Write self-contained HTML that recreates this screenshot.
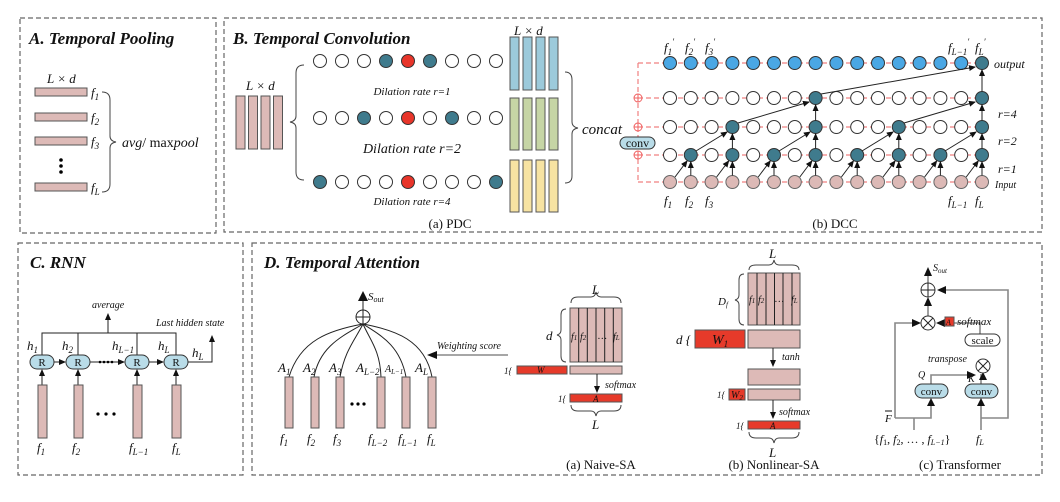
<!DOCTYPE html>
<html><head><meta charset="utf-8"><style>
html,body{margin:0;padding:0;background:#fff;}
svg{display:block;}
text{font-family:"Liberation Serif",serif;fill:#111;}
.t{font-weight:bold;font-style:italic;font-size:17px;}
.i{font-style:italic;}
.bx{fill:none;stroke:#666;stroke-width:1.2;stroke-dasharray:5,3;}
.pk{fill:#ddbab7;stroke:#555;stroke-width:1;}
.rd{fill:#e63a2a;stroke:#555;stroke-width:1;}
.ln{stroke:#222;stroke-width:1;fill:none;}
.gl{stroke:#888;stroke-width:1.6;fill:none;}
.br{stroke:#444;stroke-width:1;fill:none;}
.rdl{stroke:#f08080;stroke-width:1.2;stroke-dasharray:5,3;fill:none;}
</style></head><body>
<svg width="1060" height="502" viewBox="0 0 1060 502" xmlns="http://www.w3.org/2000/svg">
<defs>
<marker id="a" markerWidth="7" markerHeight="7" refX="6" refY="3.5" orient="auto" markerUnits="userSpaceOnUse"><path d="M0,0.5 L7,3.5 L0,6.5 z" fill="#111"/></marker>
<marker id="b" markerWidth="10" markerHeight="10" refX="9" refY="5" orient="auto" markerUnits="userSpaceOnUse"><path d="M0,0 L10,5 L0,10 z" fill="#111"/></marker>
<circle id="w" r="6.5" fill="#fff" stroke="#333" stroke-width="1"/>
<circle id="tl" r="6.5" fill="#3f7b8d" stroke="#333" stroke-width="1"/>
<circle id="r" r="6.5" fill="#e8352a" stroke="#333" stroke-width="1"/>
<circle id="bl" r="6.5" fill="#4aa7e4" stroke="#333" stroke-width="1"/>
<circle id="p" r="6.5" fill="#dcb9b6" stroke="#666" stroke-width="1"/>
</defs>

<!-- boxes -->
<rect class="bx" x="20" y="18" width="196" height="215"/>
<rect class="bx" x="224" y="18" width="818" height="214"/>
<rect class="bx" x="18" y="243" width="225" height="232"/>
<rect class="bx" x="252" y="243" width="790" height="232"/>

<!-- A -->
<text class="t" x="29" y="44">A. Temporal Pooling</text>
<text class="i" x="47" y="83" font-size="13">L × d</text>
<rect class="pk" x="35" y="88" width="52" height="8"/>
<rect class="pk" x="35" y="113" width="52" height="8"/>
<rect class="pk" x="35" y="137" width="52" height="8"/>
<rect class="pk" x="35" y="183" width="52" height="8"/>
<circle cx="61" cy="160" r="1.8" fill="#000"/><circle cx="61" cy="166" r="1.8" fill="#000"/><circle cx="61" cy="172" r="1.8" fill="#000"/>
<text class="i" x="91" y="97" font-size="13">f<tspan font-size="9" dy="3">1</tspan></text>
<text class="i" x="91" y="122" font-size="13">f<tspan font-size="9" dy="3">2</tspan></text>
<text class="i" x="91" y="146" font-size="13">f<tspan font-size="9" dy="3">3</tspan></text>
<text class="i" x="91" y="192" font-size="13">f<tspan font-size="9" dy="3">L</tspan></text>
<path class="br" d="M102,92 Q110,92 110,100 L110,136 Q110,141 116,142 Q110,143 110,148 L110,184 Q110,192 102,192"/>
<text x="122" y="147" font-size="14"><tspan class="i">avg</tspan>/ max<tspan class="i">pool</tspan></text>

<!-- B PDC -->
<text class="t" x="233" y="44">B. Temporal Convolution</text>
<text class="i" x="246" y="90" font-size="13">L × d</text>
<rect class="pk" x="236" y="96" width="9" height="53"/>
<rect class="pk" x="248.5" y="96" width="9" height="53"/>
<rect class="pk" x="261" y="96" width="9" height="53"/>
<rect class="pk" x="273.5" y="96" width="9" height="53"/>
<path class="br" d="M304,65 Q296,65 296,73 L296,116 Q296,121 290,122 Q296,123 296,128 L296,172 Q296,180 304,180"/>
<g>
<use href="#w" x="320" y="61"/><use href="#w" x="342" y="61"/><use href="#w" x="364" y="61"/><use href="#tl" x="386" y="61"/><use href="#r" x="408" y="61"/><use href="#tl" x="430" y="61"/><use href="#w" x="452" y="61"/><use href="#w" x="474" y="61"/><use href="#w" x="496" y="61"/>
<use href="#w" x="320" y="118"/><use href="#w" x="342" y="118"/><use href="#tl" x="364" y="118"/><use href="#w" x="386" y="118"/><use href="#r" x="408" y="118"/><use href="#w" x="430" y="118"/><use href="#tl" x="452" y="118"/><use href="#w" x="474" y="118"/><use href="#w" x="496" y="118"/>
<use href="#tl" x="320" y="182"/><use href="#w" x="342" y="182"/><use href="#w" x="364" y="182"/><use href="#w" x="386" y="182"/><use href="#r" x="408" y="182"/><use href="#w" x="430" y="182"/><use href="#w" x="452" y="182"/><use href="#w" x="474" y="182"/><use href="#tl" x="496" y="182"/>
</g>
<text class="i" x="412" y="95" font-size="11" text-anchor="middle">Dilation rate r=1</text>
<text class="i" x="412" y="153" font-size="14" text-anchor="middle">Dilation rate r=2</text>
<text class="i" x="412" y="205" font-size="11" text-anchor="middle">Dilation rate r=4</text>
<text class="i" x="514" y="35" font-size="13">L × d</text>
<g stroke="#555" stroke-width="1">
<rect x="510" y="37" width="9" height="53" fill="#9ccadb"/><rect x="523" y="37" width="9" height="53" fill="#9ccadb"/><rect x="536" y="37" width="9" height="53" fill="#9ccadb"/><rect x="549" y="37" width="9" height="53" fill="#9ccadb"/>
<rect x="510" y="98" width="9" height="52" fill="#c6d5a5"/><rect x="523" y="98" width="9" height="52" fill="#c6d5a5"/><rect x="536" y="98" width="9" height="52" fill="#c6d5a5"/><rect x="549" y="98" width="9" height="52" fill="#c6d5a5"/>
<rect x="510" y="160" width="9" height="52" fill="#f7e3a2"/><rect x="523" y="160" width="9" height="52" fill="#f7e3a2"/><rect x="536" y="160" width="9" height="52" fill="#f7e3a2"/><rect x="549" y="160" width="9" height="52" fill="#f7e3a2"/>
</g>
<path class="br" d="M565,72 Q572,72 572,80 L572,122 Q572,127 578,128 Q572,129 572,134 L572,176 Q572,183 565,183"/>
<text class="i" x="582" y="134" font-size="15">concat</text>
<text x="450" y="228" font-size="13" text-anchor="middle">(a) PDC</text>

<!-- DCC -->
<path class="rdl" d="M638,63 H982 M638,98 H982 M638,127 H982 M638,155 H982 M638,182 H982 M638,63 V182"/>
<g stroke="#f06060" stroke-width="1" fill="#fff">
<circle cx="638" cy="98" r="4"/><circle cx="638" cy="127" r="4"/><circle cx="638" cy="155" r="4"/>
<path d="M634,98 H642 M638,94 V102 M634,127 H642 M638,123 V131 M634,155 H642 M638,151 V159" fill="none"/>
</g>
<rect x="620" y="137" width="35" height="12" rx="6" fill="#b9dce8" stroke="#333" stroke-width="1"/>
<text x="637.5" y="147" font-size="12" text-anchor="middle">conv</text>
<g>
<use href="#bl" x="670" y="63"/><use href="#bl" x="690.8" y="63"/><use href="#bl" x="711.6" y="63"/><use href="#bl" x="732.4" y="63"/><use href="#bl" x="753.2" y="63"/><use href="#bl" x="774" y="63"/><use href="#bl" x="794.8" y="63"/><use href="#bl" x="815.6" y="63"/><use href="#bl" x="836.4" y="63"/><use href="#bl" x="857.2" y="63"/><use href="#bl" x="878" y="63"/><use href="#bl" x="898.8" y="63"/><use href="#bl" x="919.6" y="63"/><use href="#bl" x="940.4" y="63"/><use href="#bl" x="961.2" y="63"/><use href="#tl" x="982" y="63"/>
<use href="#w" x="670" y="98"/><use href="#w" x="690.8" y="98"/><use href="#w" x="711.6" y="98"/><use href="#w" x="732.4" y="98"/><use href="#w" x="753.2" y="98"/><use href="#w" x="774" y="98"/><use href="#w" x="794.8" y="98"/><use href="#tl" x="815.6" y="98"/><use href="#w" x="836.4" y="98"/><use href="#w" x="857.2" y="98"/><use href="#w" x="878" y="98"/><use href="#w" x="898.8" y="98"/><use href="#w" x="919.6" y="98"/><use href="#w" x="940.4" y="98"/><use href="#w" x="961.2" y="98"/><use href="#tl" x="982" y="98"/>
<use href="#w" x="670" y="127"/><use href="#w" x="690.8" y="127"/><use href="#w" x="711.6" y="127"/><use href="#tl" x="732.4" y="127"/><use href="#w" x="753.2" y="127"/><use href="#w" x="774" y="127"/><use href="#w" x="794.8" y="127"/><use href="#tl" x="815.6" y="127"/><use href="#w" x="836.4" y="127"/><use href="#w" x="857.2" y="127"/><use href="#w" x="878" y="127"/><use href="#tl" x="898.8" y="127"/><use href="#w" x="919.6" y="127"/><use href="#w" x="940.4" y="127"/><use href="#w" x="961.2" y="127"/><use href="#tl" x="982" y="127"/>
<use href="#w" x="670" y="155"/><use href="#tl" x="690.8" y="155"/><use href="#w" x="711.6" y="155"/><use href="#tl" x="732.4" y="155"/><use href="#w" x="753.2" y="155"/><use href="#tl" x="774" y="155"/><use href="#w" x="794.8" y="155"/><use href="#tl" x="815.6" y="155"/><use href="#w" x="836.4" y="155"/><use href="#tl" x="857.2" y="155"/><use href="#w" x="878" y="155"/><use href="#tl" x="898.8" y="155"/><use href="#w" x="919.6" y="155"/><use href="#tl" x="940.4" y="155"/><use href="#w" x="961.2" y="155"/><use href="#tl" x="982" y="155"/>
<use href="#p" x="670" y="182"/><use href="#p" x="690.8" y="182"/><use href="#p" x="711.6" y="182"/><use href="#p" x="732.4" y="182"/><use href="#p" x="753.2" y="182"/><use href="#p" x="774" y="182"/><use href="#p" x="794.8" y="182"/><use href="#p" x="815.6" y="182"/><use href="#p" x="836.4" y="182"/><use href="#p" x="857.2" y="182"/><use href="#p" x="878" y="182"/><use href="#p" x="898.8" y="182"/><use href="#p" x="919.6" y="182"/><use href="#p" x="940.4" y="182"/><use href="#p" x="961.2" y="182"/><use href="#p" x="982" y="182"/>
</g>
<g class="ln" marker-end="url(#a)" stroke-width="0.9">
<line x1="675" y1="177" x2="687" y2="161"/><line x1="690.8" y1="175.5" x2="690.8" y2="162"/>
<line x1="716.6" y1="177" x2="728.6" y2="161"/><line x1="732.4" y1="175.5" x2="732.4" y2="162"/>
<line x1="758.2" y1="177" x2="770.2" y2="161"/><line x1="774" y1="175.5" x2="774" y2="162"/>
<line x1="799.8" y1="177" x2="811.8" y2="161"/><line x1="815.6" y1="175.5" x2="815.6" y2="162"/>
<line x1="841.4" y1="177" x2="853.4" y2="161"/><line x1="857.2" y1="175.5" x2="857.2" y2="162"/>
<line x1="883" y1="177" x2="895" y2="161"/><line x1="898.8" y1="175.5" x2="898.8" y2="162"/>
<line x1="924.6" y1="177" x2="936.6" y2="161"/><line x1="940.4" y1="175.5" x2="940.4" y2="162"/>
<line x1="966.2" y1="177" x2="978.2" y2="161"/><line x1="982" y1="175.5" x2="982" y2="162"/>
<line x1="696" y1="151" x2="727" y2="132"/><line x1="732.4" y1="148.5" x2="732.4" y2="134"/>
<line x1="779" y1="151" x2="810" y2="132"/><line x1="815.6" y1="148.5" x2="815.6" y2="134"/>
<line x1="862" y1="151" x2="893" y2="132"/><line x1="898.8" y1="148.5" x2="898.8" y2="134"/>
<line x1="945" y1="151" x2="976" y2="132"/><line x1="982" y1="148.5" x2="982" y2="134"/>
<line x1="738" y1="123" x2="809" y2="102"/><line x1="815.6" y1="120.5" x2="815.6" y2="105"/>
<line x1="904" y1="123" x2="975" y2="102"/><line x1="982" y1="120.5" x2="982" y2="105"/>
<line x1="821" y1="94" x2="975" y2="67"/><line x1="982" y1="91.5" x2="982" y2="70"/>
</g>
<g class="i" font-size="13">
<text x="664" y="52">f<tspan font-size="9" dy="3">1</tspan><tspan font-size="9" dy="-10">′</tspan></text>
<text x="685" y="52">f<tspan font-size="9" dy="3">2</tspan><tspan font-size="9" dy="-10">′</tspan></text>
<text x="705" y="52">f<tspan font-size="9" dy="3">3</tspan><tspan font-size="9" dy="-10">′</tspan></text>
<text x="948" y="52">f<tspan font-size="9" dy="3">L−1</tspan><tspan font-size="9" dy="-10">′</tspan></text>
<text x="975" y="52">f<tspan font-size="9" dy="3">L</tspan><tspan font-size="9" dy="-10">′</tspan></text>
<text x="664" y="205">f<tspan font-size="9" dy="3">1</tspan></text>
<text x="685" y="205">f<tspan font-size="9" dy="3">2</tspan></text>
<text x="705" y="205">f<tspan font-size="9" dy="3">3</tspan></text>
<text x="948" y="205">f<tspan font-size="9" dy="3">L−1</tspan></text>
<text x="975" y="205">f<tspan font-size="9" dy="3">L</tspan></text>
<text x="994" y="68" font-size="12">output</text>
<text x="998" y="118" font-size="12">r=4</text>
<text x="998" y="145" font-size="12">r=2</text>
<text x="998" y="173" font-size="12">r=1</text>
<text x="995" y="188" font-size="10">Input</text>
</g>
<text x="835" y="228" font-size="13" text-anchor="middle">(b) DCC</text>

<!-- C RNN -->
<text class="t" x="30" y="268">C. RNN</text>
<path class="ln" d="M42,362 V333 H176 V362 M78,333 V362 M137,333 V362"/>
<line class="ln" x1="108" y1="333" x2="108" y2="314" marker-end="url(#a)"/>
<text class="i" x="92" y="308" font-size="10">average</text>
<text class="i" x="156" y="326" font-size="10">Last hidden state</text>
<path class="ln" d="M188,362 H212 V336" marker-end="url(#a)"/>
<g class="ln" marker-end="url(#a)">
<line x1="54" y1="362" x2="65" y2="362"/><line x1="90" y1="362" x2="124" y2="362"/><line x1="149" y1="362" x2="163" y2="362"/>
<line x1="42" y1="385" x2="42" y2="370"/><line x1="78" y1="385" x2="78" y2="370"/><line x1="137" y1="385" x2="137" y2="370"/><line x1="176" y1="385" x2="176" y2="370"/>
</g>
<circle cx="100" cy="362" r="1.3"/><circle cx="104" cy="362" r="1.3"/><circle cx="108" cy="362" r="1.3"/><circle cx="112" cy="362" r="1.3"/>
<g fill="#b9dce8" stroke="#333" stroke-width="1">
<rect x="30" y="355" width="24" height="14" rx="7"/><rect x="66" y="355" width="24" height="14" rx="7"/><rect x="125" y="355" width="24" height="14" rx="7"/><rect x="164" y="355" width="24" height="14" rx="7"/>
</g>
<g font-size="11" text-anchor="middle"><text x="42" y="366">R</text><text x="78" y="366">R</text><text x="137" y="366">R</text><text x="176" y="366">R</text></g>
<rect class="pk" x="38" y="385" width="9" height="53"/><rect class="pk" x="74" y="385" width="9" height="53"/><rect class="pk" x="133" y="385" width="9" height="53"/><rect class="pk" x="172" y="385" width="9" height="53"/>
<circle cx="98" cy="414" r="1.6" fill="#000"/><circle cx="106" cy="414" r="1.6" fill="#000"/><circle cx="114" cy="414" r="1.6" fill="#000"/>
<g class="i" font-size="13">
<text x="27" y="350">h<tspan font-size="9" dy="3">1</tspan></text>
<text x="62" y="350">h<tspan font-size="9" dy="3">2</tspan></text>
<text x="112" y="350">h<tspan font-size="9" dy="3">L−1</tspan></text>
<text x="158" y="350">h<tspan font-size="9" dy="3">L</tspan></text>
<text x="192" y="357">h<tspan font-size="9" dy="3">L</tspan></text>
<text x="37" y="452">f<tspan font-size="9" dy="3">1</tspan></text>
<text x="72" y="452">f<tspan font-size="9" dy="3">2</tspan></text>
<text x="129" y="452">f<tspan font-size="9" dy="3">L−1</tspan></text>
<text x="172" y="452">f<tspan font-size="9" dy="3">L</tspan></text>
</g>

<!-- D -->
<text class="t" x="264" y="268">D. Temporal Attention</text>
<!-- naive left -->
<line class="ln" x1="363" y1="310" x2="363" y2="292" marker-end="url(#b)"/>
<text class="i" x="368" y="300" font-size="11">S<tspan font-size="8" dy="2">out</tspan></text>
<circle cx="363" cy="317" r="7" fill="#fff" stroke="#222"/>
<path class="ln" d="M356,317 H370 M363,310 V324"/>
<g class="ln">
<path d="M363,324 C330,330 300,340 289,377"/>
<path d="M363,324 C345,335 320,345 314,377"/>
<path d="M363,324 C355,340 345,350 340,377"/>
<path d="M363,324 C370,340 380,350 381,377"/>
<path d="M363,324 C380,335 400,345 406,377"/>
<path d="M363,324 C395,330 425,340 432,377"/>
</g>
<rect class="pk" x="285" y="377" width="8" height="51"/><rect class="pk" x="311" y="377" width="8" height="51"/><rect class="pk" x="336" y="377" width="8" height="51"/><rect class="pk" x="377" y="377" width="8" height="51"/><rect class="pk" x="402" y="377" width="8" height="51"/><rect class="pk" x="428" y="377" width="8" height="51"/>
<circle cx="352" cy="404" r="1.6" fill="#000"/><circle cx="358" cy="404" r="1.6" fill="#000"/><circle cx="364" cy="404" r="1.6" fill="#000"/>
<g class="i" font-size="13">
<text x="278" y="372">A<tspan font-size="9" dy="3">1</tspan></text>
<text x="303" y="372">A<tspan font-size="9" dy="3">2</tspan></text>
<text x="329" y="372">A<tspan font-size="9" dy="3">3</tspan></text>
<text x="356" y="372">A<tspan font-size="9" dy="3">L−2</tspan></text>
<text x="385" y="372" font-size="10">A<tspan font-size="7" dy="2">L−1</tspan></text>
<text x="415" y="372">A<tspan font-size="9" dy="3">L</tspan></text>
<text x="280" y="443">f<tspan font-size="9" dy="3">1</tspan></text>
<text x="307" y="443">f<tspan font-size="9" dy="3">2</tspan></text>
<text x="333" y="443">f<tspan font-size="9" dy="3">3</tspan></text>
<text x="368" y="443">f<tspan font-size="9" dy="3">L−2</tspan></text>
<text x="398" y="443">f<tspan font-size="9" dy="3">L−1</tspan></text>
<text x="427" y="443">f<tspan font-size="9" dy="3">L</tspan></text>
</g>
<text class="i" x="437" y="349" font-size="10">Weighting score</text>
<line class="gl" x1="508" y1="355" x2="430" y2="355" stroke="#555" stroke-width="1"/>
<path d="M427,355 L437,351 L437,359 z" fill="#111"/>
<!-- naive matrix -->
<rect class="pk" x="570" y="308" width="52" height="54"/>
<path class="ln" d="M578.7,308 V362 M587.3,308 V362 M596,308 V362 M604.7,308 V362 M613.3,308 V362" stroke="#333"/>
<g class="i" font-size="10"><text x="571" y="340">f<tspan font-size="7">1</tspan></text><text x="580" y="340">f<tspan font-size="7">2</tspan></text><text x="598" y="339">…</text><text x="613" y="340">f<tspan font-size="7">L</tspan></text></g>
<path class="br" d="M571,303 Q571,297 578,297 L591,297 Q595,297 596,292 Q597,297 601,297 L614,297 Q621,297 621,303"/>
<text class="i" x="592" y="294" font-size="13">L</text>
<path class="br" d="M566,309 Q561,309 561,315 L561,330 Q561,334 557,335 Q561,336 561,340 L561,356 Q561,362 566,362"/>
<text class="i" x="546" y="340" font-size="13">d</text>
<rect class="rd" x="517" y="366" width="50" height="8"/>
<text class="i" x="537" y="373" font-size="9">W</text>
<text class="i" x="504" y="374" font-size="9">1{</text>
<rect class="pk" x="570" y="366" width="52" height="8"/>
<line class="ln" x1="597" y1="374" x2="597" y2="392" marker-end="url(#a)"/>
<text class="i" x="605" y="388" font-size="10">softmax</text>
<text class="i" x="558" y="402" font-size="9">1{</text>
<rect class="rd" x="570" y="394" width="52" height="8"/>
<text class="i" x="593" y="402" font-size="9">A</text>
<path class="br" d="M571,405 Q571,411 578,411 L591,411 Q595,411 596,416 Q597,411 601,411 L614,411 Q621,411 621,405"/>
<text class="i" x="592" y="429" font-size="13">L</text>
<text x="601" y="469" font-size="13" text-anchor="middle">(a) Naive-SA</text>

<!-- nonlinear -->
<rect class="pk" x="748" y="273" width="52" height="52"/>
<path class="ln" d="M757,273 V325 M766,273 V325 M774.5,273 V325 M783,273 V325 M792,273 V325" stroke="#333"/>
<g class="i" font-size="10"><text x="749" y="303">f<tspan font-size="7">1</tspan></text><text x="758" y="303">f<tspan font-size="7">2</tspan></text><text x="775" y="302">…</text><text x="791" y="303">f<tspan font-size="7">L</tspan></text></g>
<path class="br" d="M749,270 Q749,265 756,265 L769,265 Q773,265 774,260 Q775,265 779,265 L792,265 Q799,265 799,270"/>
<text class="i" x="769" y="258" font-size="13">L</text>
<path class="br" d="M744,274 Q739,274 739,280 L739,295 Q739,299 735,300 Q739,301 739,305 L739,319 Q739,325 744,325"/>
<text class="i" x="718" y="305" font-size="11">D<tspan font-size="7" dy="2">f</tspan></text>
<rect class="rd" x="695" y="330" width="50" height="18"/>
<text class="i" x="712" y="344" font-size="14">W<tspan font-size="9" dy="3">1</tspan></text>
<rect class="pk" x="748" y="330" width="52" height="18"/>
<text class="i" x="676" y="344" font-size="13">d  {</text>
<line class="ln" x1="773" y1="348" x2="773" y2="366" marker-end="url(#a)"/>
<text class="i" x="782" y="360" font-size="10">tanh</text>
<rect class="pk" x="748" y="369" width="52" height="16"/>
<rect class="pk" x="748" y="389" width="52" height="11"/>
<rect class="rd" x="729" y="389" width="16" height="11"/>
<text class="i" x="731" y="398" font-size="10">W<tspan font-size="7" dy="2">2</tspan></text>
<text class="i" x="717" y="398" font-size="9">1{</text>
<line class="ln" x1="773" y1="400" x2="773" y2="418" marker-end="url(#a)"/>
<text class="i" x="779" y="415" font-size="10">softmax</text>
<text class="i" x="736" y="429" font-size="9">1{</text>
<rect class="rd" x="748" y="421" width="52" height="8"/>
<text class="i" x="770" y="429" font-size="9">A</text>
<path class="br" d="M749,432 Q749,438 756,438 L769,438 Q773,438 774,443 Q775,438 779,438 L792,438 Q799,438 799,432"/>
<text class="i" x="769" y="457" font-size="13">L</text>
<text x="774" y="469" font-size="13" text-anchor="middle">(b) Nonlinear-SA</text>

<!-- transformer -->
<g stroke="#888" stroke-width="1.6" fill="none">
<path d="M928,283 V272"/>
<path d="M928,316 V300"/>
<path d="M895,418 V323 H917"/>
<path d="M895,418 H931 V401"/>
<path d="M914,418 V430"/>
<path d="M931,384 V375 H974"/>
<path d="M981,430 V401"/>
<path d="M981,384 V374"/>
<path d="M981,418 H1008 V290 H939"/>
<path d="M980,337 V323 H938"/>
</g>
<g fill="#111">
<path d="M928,267 L924,276 L932,276 z"/>
<path d="M928,297 L924,306 L932,306 z"/>
<path d="M921,323 L912,319 L912,327 z"/>
<path d="M937,290 L946,286 L946,294 z"/>
<path d="M936,323 L945,319 L945,327 z"/>
<path d="M976,366 L967,362 L967,370 z" transform="translate(0,9)"/>
<path d="M931,398 L927,406 L935,406 z"/>
<path d="M981,398 L977,406 L985,406 z"/>
<path d="M983,372 L979,380 L987,380 z"/>
</g>
<text class="i" x="933" y="271" font-size="10">S<tspan font-size="7" dy="2">out</tspan></text>
<circle cx="928" cy="290" r="7" fill="#fff" stroke="#333"/>
<path class="ln" d="M921,290 H935 M928,283 V297"/>
<circle cx="928" cy="323" r="7" fill="#fff" stroke="#333"/>
<path class="ln" d="M923,318 L933,328 M933,318 L923,328"/>
<rect class="rd" x="945" y="317" width="9" height="9"/>
<text class="i" x="946" y="325" font-size="8">A</text>
<text class="i" x="957" y="325" font-size="11">softmax</text>
<rect x="965" y="334" width="35" height="12" rx="6" fill="#fff" stroke="#333"/>
<text x="982.5" y="344" font-size="11" text-anchor="middle">scale</text>
<text class="i" x="928" y="362" font-size="10">transpose</text>
<circle cx="983" cy="366" r="7" fill="#fff" stroke="#333"/>
<path class="ln" d="M978,361 L988,371 M988,361 L978,371"/>
<text class="i" x="918" y="378" font-size="10">Q</text>
<text class="i" x="968" y="382" font-size="10">K</text>
<rect x="915" y="384" width="33" height="14" rx="7" fill="#b9dce8" stroke="#333"/>
<text x="931.5" y="395" font-size="11" text-anchor="middle">conv</text>
<rect x="965" y="384" width="33" height="14" rx="7" fill="#b9dce8" stroke="#333"/>
<text x="981.5" y="395" font-size="11" text-anchor="middle">conv</text>
<text class="i" x="885" y="422" font-size="11">F</text><line x1="885" y1="411" x2="892" y2="411" stroke="#111"/>
<text x="874" y="443" font-size="12">{<tspan class="i">f</tspan><tspan font-size="8" dy="2">1</tspan><tspan dy="-2">, </tspan><tspan class="i">f</tspan><tspan font-size="8" dy="2">2</tspan><tspan dy="-2">, … , </tspan><tspan class="i">f</tspan><tspan font-size="8" dy="2" class="i">L−1</tspan><tspan dy="-2">}</tspan></text>
<text class="i" x="976" y="443" font-size="12">f<tspan font-size="8" dy="2">L</tspan></text>
<text x="960" y="469" font-size="13" text-anchor="middle">(c) Transformer</text>
</svg>
</body></html>
